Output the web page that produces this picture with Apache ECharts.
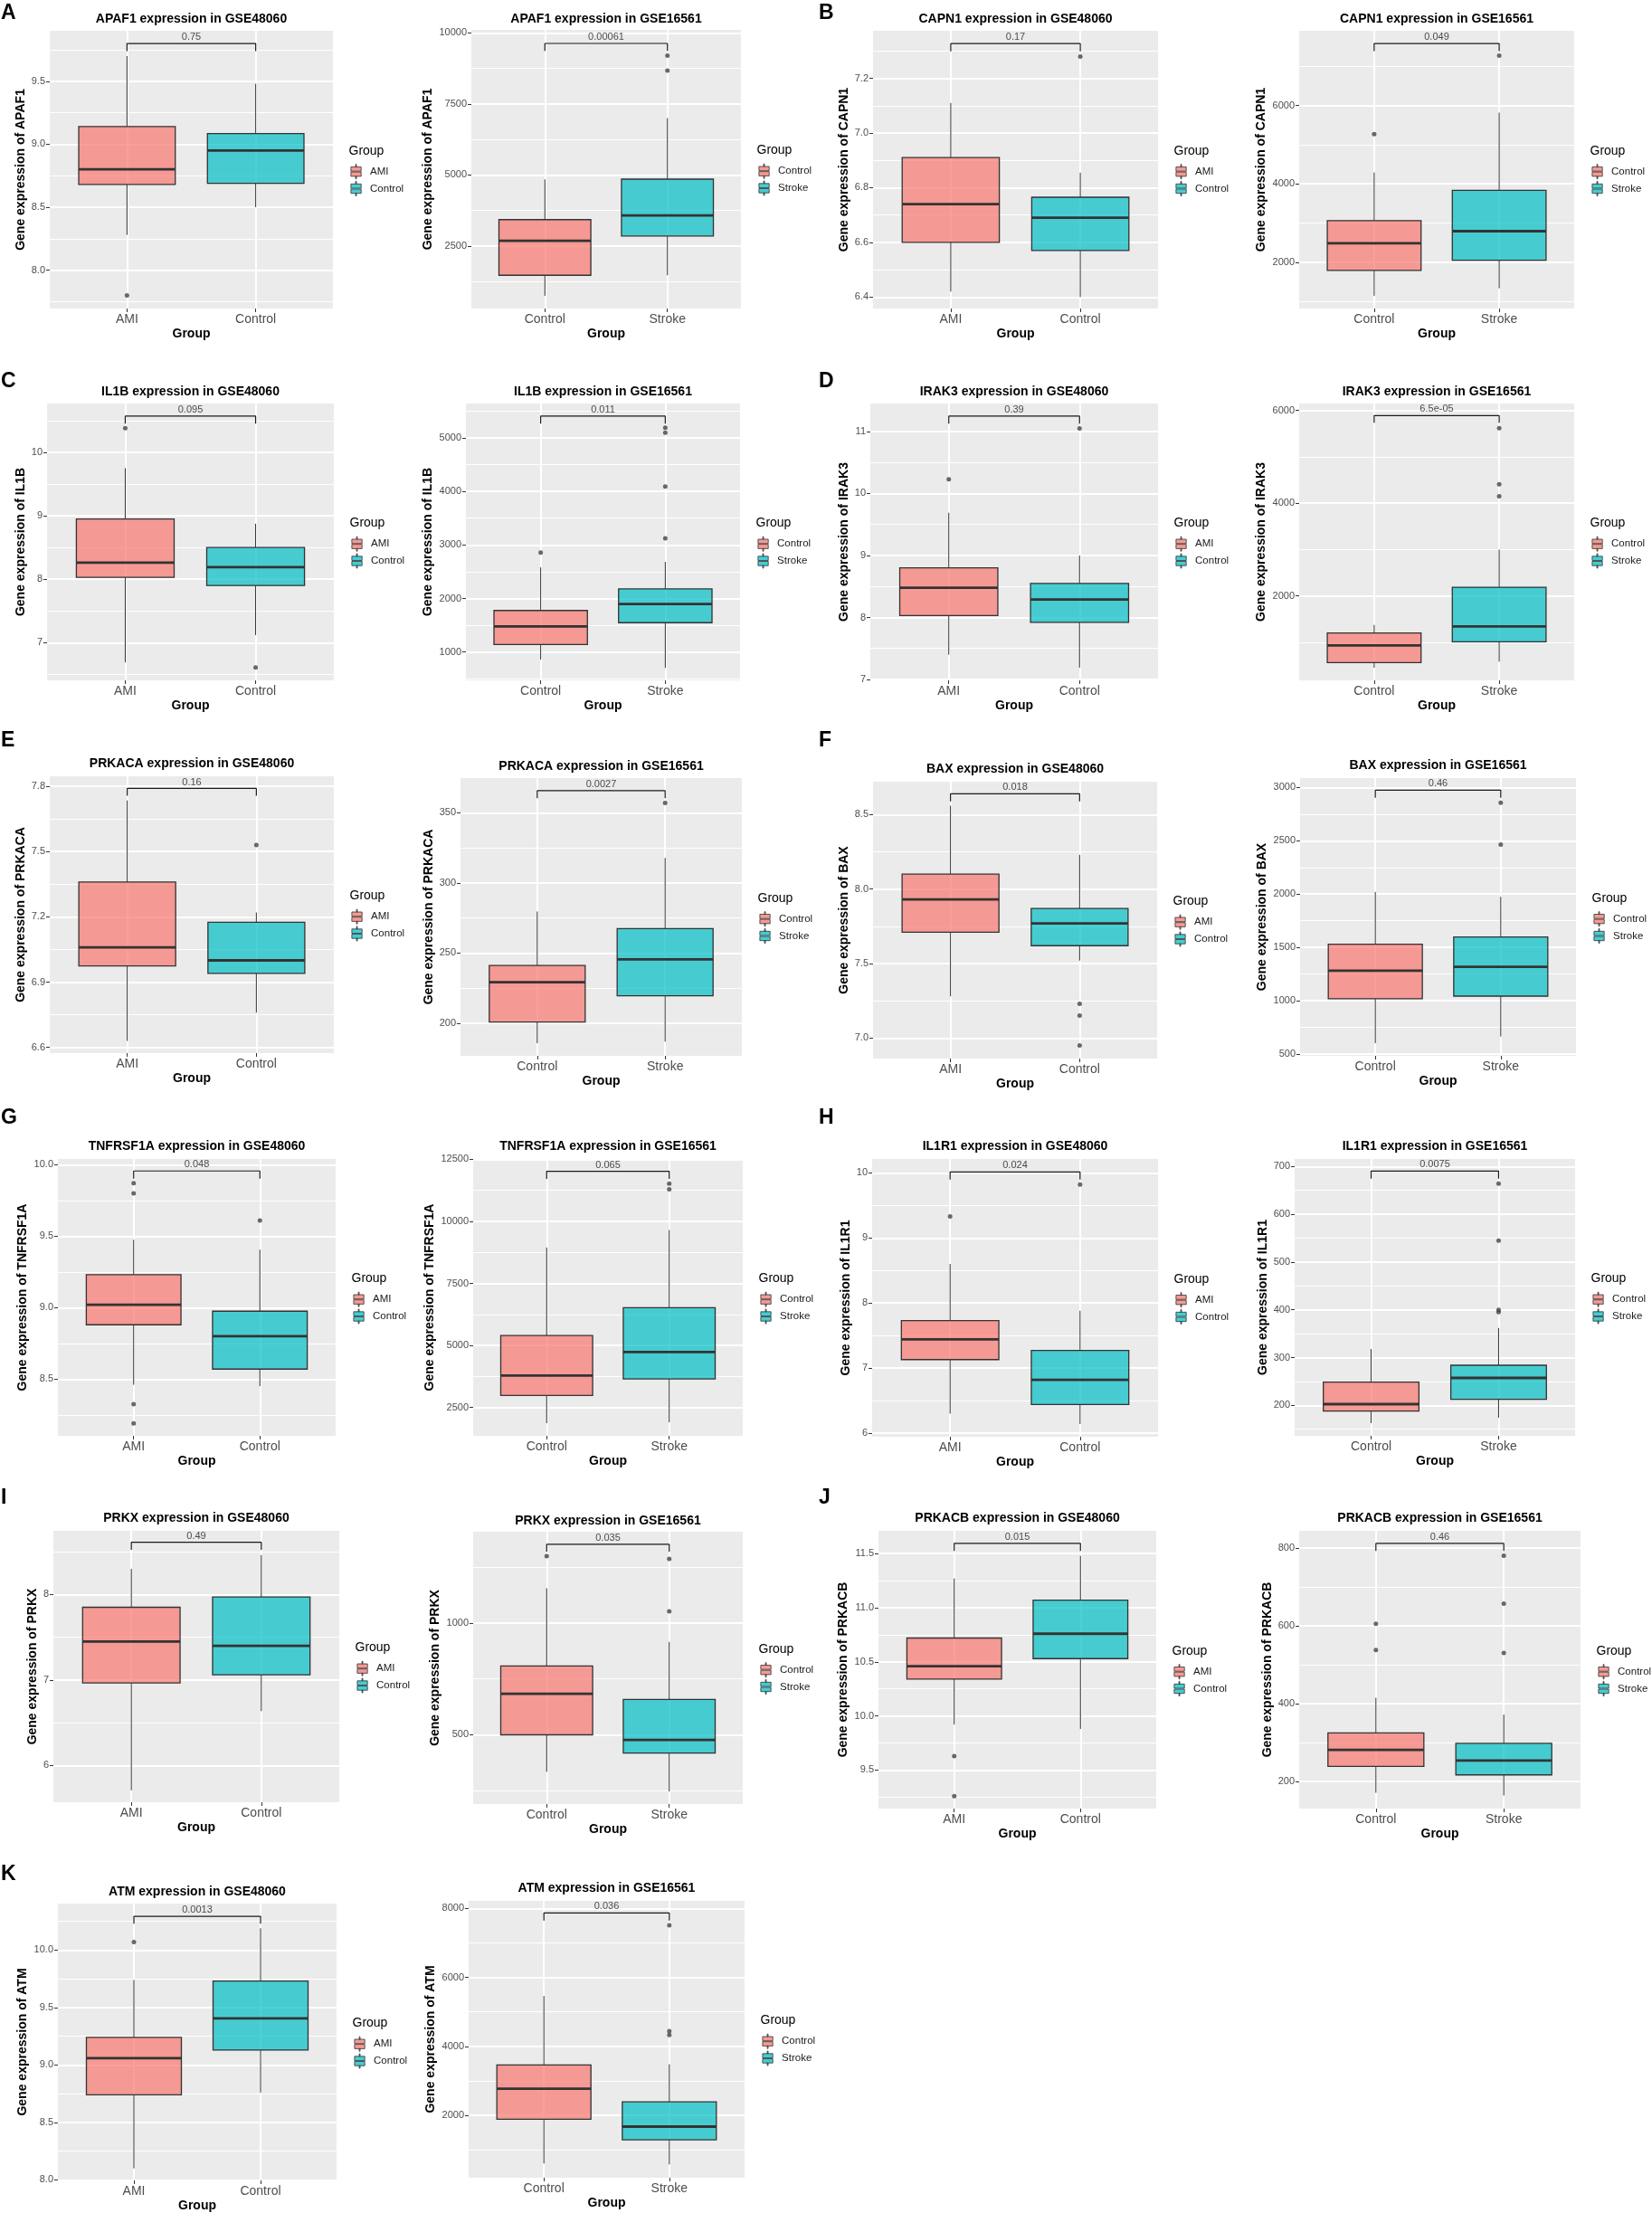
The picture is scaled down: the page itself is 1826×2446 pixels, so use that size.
<!DOCTYPE html>
<html><head><meta charset="utf-8">
<script src="https://cdn.jsdelivr.net/npm/echarts@6/dist/echarts.min.js"></script>
<style>html,body{margin:0;padding:0;background:#fff}#c{width:1826px;height:2446px}</style>
</head><body><div id="c"></div>
<script>
// ---------------- DATA ----------------
const genes = ['APAF1','CAPN1','IL1B','IRAK3','PRKACA','BAX','TNFRSF1A','IL1R1','PRKX','PRKACB','ATM'];
const panelLetters = ['A','B','C','D','E','F','G','H','I','J','K'];
const datasets = ['GSE48060','GSE16561'];
const groups48060 = ['AMI','Control'];
const groups16561 = ['Control','Stroke'];

// box stats: [lower whisker, Q1, median, Q3, upper whisker]
const ami48060 = [
  [8.28, 8.68, 8.80, 9.14, 9.70],
  [6.42, 6.60, 6.74, 6.91, 7.11],
  [6.69, 8.03, 8.26, 8.95, 9.75],
  [7.40, 8.03, 8.48, 8.80, 9.69],
  [6.63, 6.975, 7.06, 7.36, 7.735],
  [7.28, 7.71, 7.93, 8.10, 8.56],
  [8.46, 8.88, 9.02, 9.23, 9.475],
  [6.30, 7.13, 7.44, 7.73, 8.60],
  [5.71, 6.965, 7.45, 7.85, 8.30],
  [9.92, 10.34, 10.46, 10.72, 11.27],
  [8.10, 8.74, 9.06, 9.24, 9.74]];
const ctl48060 = [
  [8.50, 8.69, 8.95, 9.085, 9.48],
  [6.40, 6.57, 6.69, 6.765, 6.855],
  [7.12, 7.90, 8.19, 8.50, 8.875],
  [7.19, 7.92, 8.29, 8.55, 9.00],
  [6.76, 6.94, 7.00, 7.175, 7.22],
  [7.52, 7.62, 7.77, 7.87, 8.23],
  [8.45, 8.57, 8.80, 8.975, 9.405],
  [6.14, 6.44, 6.82, 7.27, 7.88],
  [6.635, 7.06, 7.40, 7.97, 8.46],
  [9.88, 10.53, 10.76, 11.07, 11.48],
  [8.76, 9.13, 9.405, 9.73, 10.19]];
const ctl16561 = [
  [745, 1468, 2681, 3426, 4840],
  [1145, 1792, 2486, 3064, 4289],
  [859, 1140, 1477, 1776, 2581],
  [454, 565, 935, 1201, 1376],
  [185.8, 200.9, 229.2, 241.2, 279.6],
  [602, 1018, 1281, 1530, 2020],
  [1869, 2985, 3786, 5400, 8944],
  [162.8, 188, 202.5, 248.6, 318],
  [333, 499, 683, 808, 1157],
  [171, 239, 281, 325, 415],
  [605, 1887, 2776, 3465, 5462]];
const stroke16561 = [
  [1468, 2851, 3574, 4851, 7000],
  [1337, 2054, 2794, 3834, 5815],
  [704, 1548, 1897, 2178, 2684],
  [584, 1013, 1344, 2188, 3000],
  [186.9, 219.6, 245.5, 267.4, 317.8],
  [664, 1043, 1317, 1597, 1975],
  [1905, 3653, 4733, 6517, 9648],
  [174, 212.6, 257.4, 283.9, 362],
  [245, 417, 476, 658, 916],
  [164, 217, 254, 298, 372],
  [579, 1294, 1677, 2392, 3483]];

// outliers
const amiOut48060 = [[7.80],[],[10.38],[10.23],[],[],[9.87,9.80,8.325,8.19],[9.33],[],[9.63,9.26],[10.07]];
const ctlOut48060 = [[],[7.28],[6.61],[11.05],[7.53],[7.23,7.15,6.95],[9.61],[9.82],[],[],[]];
const ctlOut16561 = [[],[5268],[2856],[],[],[],[],[],[1301],[605,538],[]];
const strokeOut16561 = [[9202,8670],[7272],[5191,5096,4090,3122],[5617,4409,4149],[356.9],[2856,2465],[11517,11286],[664,545,400,395],[1289,1053],[780,657,530],[7512,4442,4329]];

// p-values and comparison brackets [tip end, bar]
const p48060 = ['0.75','0.17','0.095','0.39','0.16','0.018','0.048','0.024','0.49','0.015','0.0013'];
const p16561 = ['0.00061','0.049','0.011','6.5e-05','0.0027','0.46','0.065','0.0075','0.035','0.46','0.036'];
const bracket48060 = [[9.74,9.80],[7.299,7.327],[10.45,10.57],[11.126,11.248],[7.757,7.79],[8.589,8.64],[9.903,9.956],[9.898,10.014],[8.522,8.61],[11.525,11.595],[10.229,10.294]];
const bracket16561 = [[9362,9628],[7387,7580],[5264,5405],[5734,5890],[360.3,365.7],[2904,2975],[11711,12015],[674.7,690.5],[1321.4,1353.9],[792.3,811.6],[7651,7869]];

// y axis ranges and tick labels
const yRange48060 = [[7.695,9.901],[6.358,7.374],[6.406,10.769],[6.985,11.452],[6.574,7.846],[6.862,8.721],[8.103,10.04],[5.945,10.213],[5.570,8.744],[9.144,11.711],[7.995,10.405]];
const yRange16561 = [[298,10106],[821,7904],[471,5641],[181,6149],[176.8,374.7],[483,3088],[1359,12510],[136.2,715.8],[188.4,1410.6],[130.4,844],[195,8218]];
const yTicks48060 = [
  ['8.0','8.5','9.0','9.5'],
  ['6.4','6.6','6.8','7.0','7.2'],
  ['7','8','9','10'],
  ['7','8','9','10','11'],
  ['6.6','6.9','7.2','7.5','7.8'],
  ['7.0','7.5','8.0','8.5'],
  ['8.5','9.0','9.5','10.0'],
  ['6','7','8','9','10'],
  ['6','7','8'],
  ['9.5','10.0','10.5','11.0','11.5'],
  ['8.0','8.5','9.0','9.5','10.0']];
const yTicks16561 = [
  ['2500','5000','7500','10000'],
  ['2000','4000','6000'],
  ['1000','2000','3000','4000','5000'],
  ['2000','4000','6000'],
  ['200','250','300','350'],
  ['500','1000','1500','2000','2500','3000'],
  ['2500','5000','7500','10000','12500'],
  ['200','300','400','500','600','700'],
  ['500','1000'],
  ['200','400','600','800'],
  ['2000','4000','6000','8000']];

// ---------------- LAYOUT (pixels) ----------------
const rects48060 = [[55,34,313,307],[965,34,315,307],[52,446,317,306],[962,446,318,306],[55,858,314,306],[965,864,314,306],[64,1281,307,306],[964,1281,316,307],[59,1692,316,300],[971,1692,307,307],[64,2104,308,306]];
const rects16561 = [[521,33,298,308],[1436,34,304,307],[515,446,303,306],[1436,446,304,306],[509,860,311,307],[1437,860,305,307],[523,1281,298,306],[1431,1281,310,306],[523,1693,298,301],[1436,1692,311,307],[518,2101,305,306]];
const titleY48060 = [21,21,432.7,432.7,844.3,850.3,1266.7,1267.3,1678.3,1678.3,2091];
const titleY16561 = [21,21,432.7,432.7,847,846.3,1266.7,1266.7,1680.7,1678.3,2086.7];
const letterPos = [[1,23],[905,23],[1,429.5],[905,429.5],[1,827],[905,827],[1,1243.5],[905,1243.5],[1,1663.5],[905,1663.5],[1,2080]];

// ---------------- STYLE ----------------
const FONT = "'Liberation Sans', Arial, Helvetica, sans-serif";
const FILLS = ['rgba(248,118,109,0.7)','rgba(0,191,196,0.7)'];
const LEGEND_FILLS = ['#F49A93','#46CCD0'];
const OUTLINE = '#333333';
const BOX_W = 0.75;
const ICON = 'path://M5.5,0H6.5V3H5.5Z M0,3H12V8H0Z M0,9H12V14H0Z M5.5,14H6.5V17H5.5Z';

const mctx = document.createElement('canvas').getContext('2d');
mctx.font = '11px ' + FONT;

const grids = [], xAxes = [], yAxes = [], series = [], legends = [], graphics = [];

function renderBox(params, api) {
  const x = api.value(0);
  const lo = api.coord([x, api.value(1)]);
  const q1 = api.coord([x, api.value(2)]);
  const md = api.coord([x, api.value(3)]);
  const q3 = api.coord([x, api.value(4)]);
  const hi = api.coord([x, api.value(5)]);
  const left = api.coord([x - BOX_W / 2, api.value(3)])[0];
  const right = api.coord([x + BOX_W / 2, api.value(3)])[0];
  const color = api.visual('color');
  return {
    type: 'group',
    children: [
      {type:'line', shape:{x1:lo[0], y1:lo[1], x2:q1[0], y2:q1[1]}, style:{stroke:OUTLINE, lineWidth:1}},
      {type:'line', shape:{x1:q3[0], y1:q3[1], x2:hi[0], y2:hi[1]}, style:{stroke:OUTLINE, lineWidth:1}},
      {type:'rect', shape:{x:left, y:q3[1], width:right-left, height:q1[1]-q3[1]}, style:{fill:color, stroke:OUTLINE, lineWidth:1.3}},
      {type:'line', shape:{x1:left, y1:md[1], x2:right, y2:md[1]}, style:{stroke:OUTLINE, lineWidth:2.8}}
    ]
  };
}

function minorOf(ticks, range) {
  const step = ticks[1] - ticks[0];
  const out = [];
  for (let v = ticks[0] - step / 2; v <= range[1] + 1e-9; v += step) {
    if (v >= range[0]) out.push(+v.toFixed(6));
  }
  return out;
}

function addPanel(rect, titleY, gene, dataset, groupNames, stats, outs, pval, bracket, yRange, tickLabels) {
  const gi = grids.length;
  const [L, T, W, H] = rect;
  grids.push({left:L, top:T, width:W, height:H, show:true, backgroundColor:'#EBEBEB', borderWidth:0, containLabel:false, outerBoundsMode:'none'});
  const tickVals = tickLabels.map(Number);
  const labelW = Math.max(...tickLabels.map(s => mctx.measureText(s).width));
  xAxes.push({
    gridIndex: gi, type: 'value', min: 0.4, max: 2.6,
    axisLine: {show:false},
    axisTick: {show:true, length:4, customValues:[1,2], lineStyle:{color:OUTLINE, width:1}},
    axisLabel: {customValues:[1,2], margin:5, fontSize:14, color:'#4D4D4D', fontFamily:FONT,
                formatter: v => groupNames[Math.round(v) - 1]},
    splitLine: {show:true, lineStyle:{color:'#FFFFFF', width:2}},
    name: 'Group', nameLocation: 'middle', nameGap: 21, nameMoveOverlap: false,
    nameTextStyle: {fontSize:14, fontWeight:'bold', color:'#000', fontFamily:FONT}
  });
  const yi = yAxes.length;
  yAxes.push({
    gridIndex: gi, type: 'value', min: yRange[0], max: yRange[1], position: 'left',
    axisLine: {show:false},
    axisTick: {show:true, length:4, customValues:tickVals, lineStyle:{color:OUTLINE, width:1}},
    axisLabel: {customValues:tickVals, margin:5, fontSize:11, color:'#4D4D4D', fontFamily:FONT,
                formatter: v => {
                  let best = 0;
                  tickVals.forEach((t, k) => { if (Math.abs(t - v) < Math.abs(tickVals[best] - v)) best = k; });
                  return tickLabels[best];
                }},
    splitLine: {show:true, lineStyle:{color:'#FFFFFF', width:2}},
    name: 'Gene expression of ' + gene, nameLocation: 'middle', nameGap: labelW + 10, nameMoveOverlap: false,
    nameTextStyle: {fontSize:14, fontWeight:'bold', color:'#000', fontFamily:FONT}
  });
  yAxes.push({
    gridIndex: gi, type: 'value', min: yRange[0], max: yRange[1], position: 'right',
    axisLine: {show:false}, axisLabel: {show:false},
    axisTick: {show:false, customValues: minorOf(tickVals, yRange)},
    splitLine: {show:true, lineStyle:{color:'#FFFFFF', width:1}}
  });
  // boxes
  [0, 1].forEach(k => {
    series.push({
      type: 'custom', name: groupNames[k], xAxisIndex: gi, yAxisIndex: yi,
      renderItem: renderBox, encode: {x:0, y:[1,2,3,4,5]},
      itemStyle: {color: FILLS[k]},
      data: [[k + 1].concat(stats[k])], z: 2, silent: true
    });
  });
  // outliers
  const outData = [];
  [0, 1].forEach(k => outs[k].forEach(v => outData.push([k + 1, v])));
  series.push({
    type: 'scatter', xAxisIndex: gi, yAxisIndex: yi, symbolSize: 5,
    itemStyle: {color: '#444444'}, data: outData, z: 3, silent: true
  });
  // comparison bracket
  series.push({
    type: 'line', xAxisIndex: gi, yAxisIndex: yi, showSymbol: false, symbol: 'none',
    lineStyle: {color:'#1A1A1A', width:1.2},
    data: [[1, bracket[0]], [1, bracket[1]], [2, bracket[1]], [2, bracket[0]]], z: 4, silent: true
  });
  series.push({
    type: 'scatter', xAxisIndex: gi, yAxisIndex: yi, symbolSize: 1,
    itemStyle: {color: 'rgba(0,0,0,0)'},
    label: {show:true, position:'top', distance:1, formatter: () => pval, fontSize:11, color:'#222', fontFamily:FONT},
    data: [[1.5, bracket[1]]], z: 4, silent: true
  });
  // legend
  const cy = T + H / 2;
  legends.push({
    orient: 'vertical', left: L + W + 19.5, top: cy + 1.8 - 8, padding: 0,
    itemWidth: 13, itemHeight: 16, itemGap: 2, icon: ICON, selectedMode: false,
    itemStyle: {borderColor: OUTLINE, borderWidth: 0.8},
    textStyle: {fontSize: 11.5, color: '#1A1A1A', fontFamily: FONT, padding: [0, 0, 0, 4]},
    data: [{name: groupNames[0], itemStyle: {color: LEGEND_FILLS[0]}}, {name: groupNames[1], itemStyle: {color: LEGEND_FILLS[1]}}]
  });
  graphics.push({type:'text', x: L + W + 17.5, y: cy - 20.7, silent: true,
    style:{text:'Group', font:'14px ' + FONT, fill:'#000', align:'left', verticalAlign:'middle'}});
  // panel title
  graphics.push({type:'text', x: L + W / 2, y: titleY, silent: true,
    style:{text: gene + ' expression in ' + dataset, font:'bold 14px ' + FONT, fill:'#000', align:'center', verticalAlign:'middle'}});
}

genes.forEach((g, i) => {
  addPanel(rects48060[i], titleY48060[i], g, datasets[0], groups48060,
    [ami48060[i], ctl48060[i]], [amiOut48060[i], ctlOut48060[i]], p48060[i], bracket48060[i], yRange48060[i], yTicks48060[i]);
  addPanel(rects16561[i], titleY16561[i], g, datasets[1], groups16561,
    [ctl16561[i], stroke16561[i]], [ctlOut16561[i], strokeOut16561[i]], p16561[i], bracket16561[i], yRange16561[i], yTicks16561[i]);
  graphics.push({type:'text', x: letterPos[i][0], y: letterPos[i][1] - 8, silent: true,
    style:{text: panelLetters[i], font:'bold 23px ' + FONT, fill:'#000', align:'left', verticalAlign:'middle'}});
});

const chart = echarts.init(document.getElementById('c'), null, {renderer: 'canvas'});
chart.setOption({
  animation: false,
  backgroundColor: '#FFFFFF',
  textStyle: {fontFamily: FONT},
  grid: grids, xAxis: xAxes, yAxis: yAxes, series: series, legend: legends,
  graphic: {elements: graphics}
});
</script></body></html>
